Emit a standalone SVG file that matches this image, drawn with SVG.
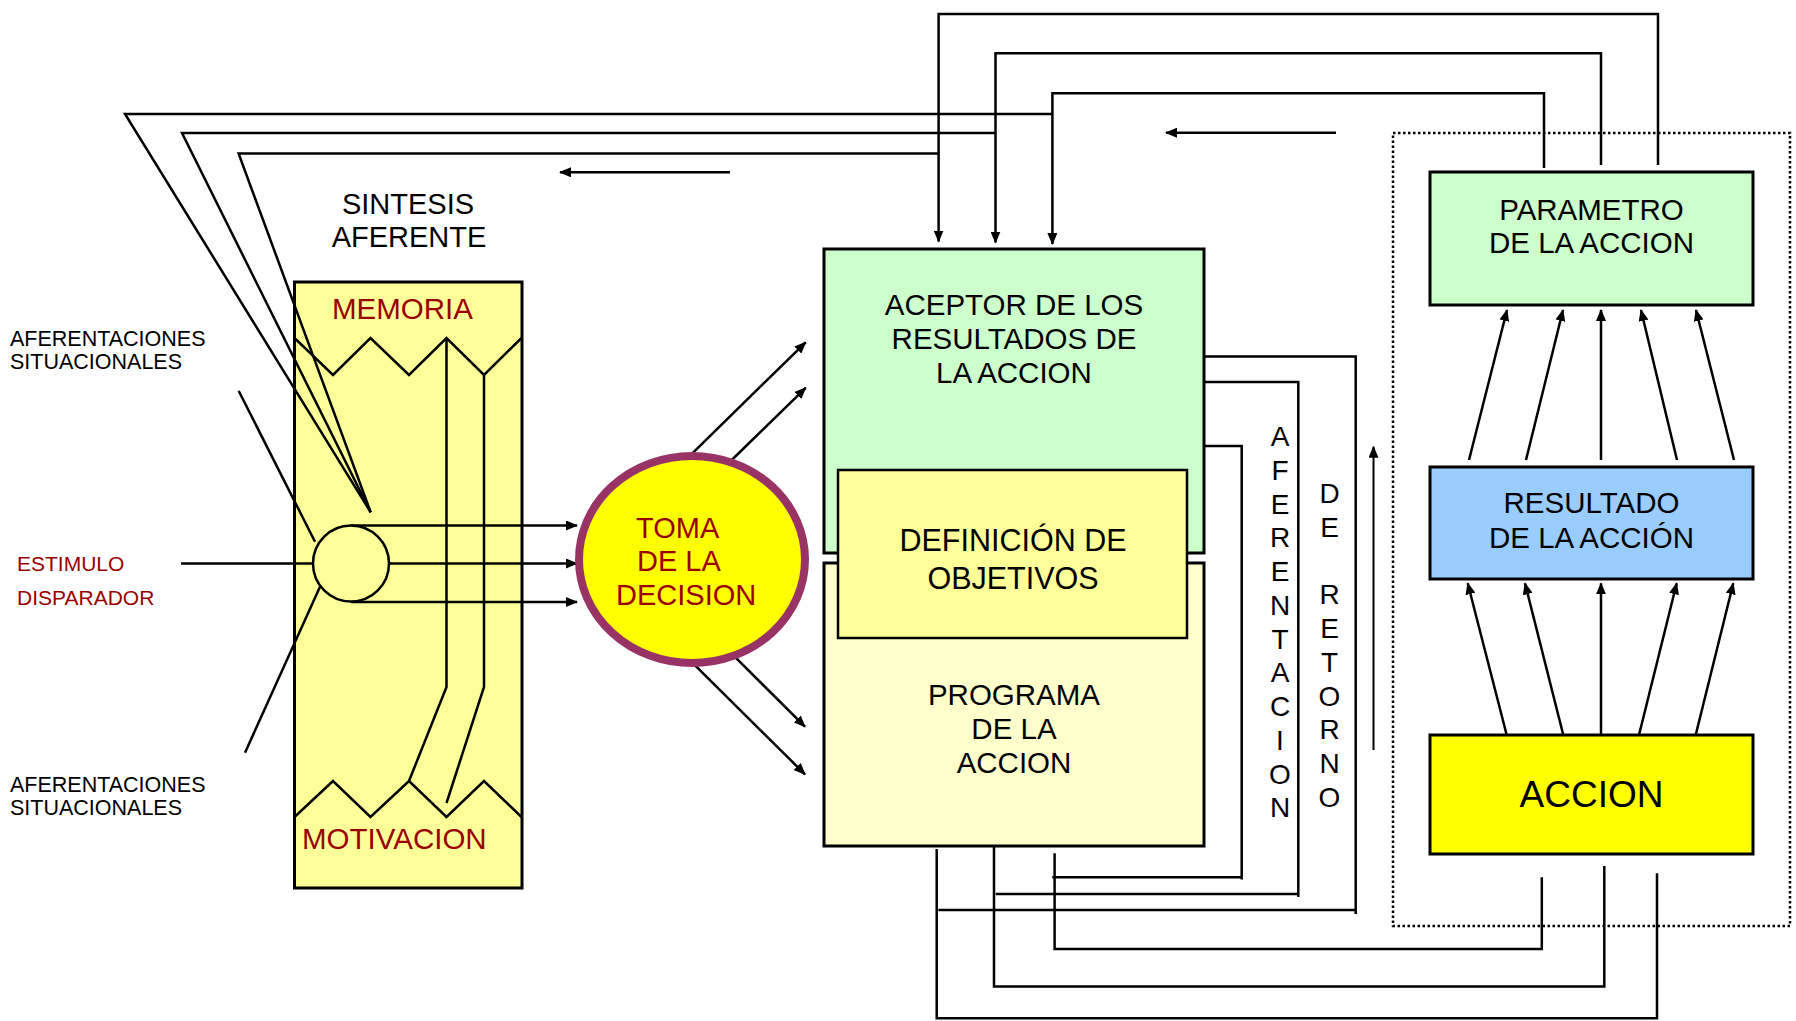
<svg xmlns="http://www.w3.org/2000/svg" width="1796" height="1021" viewBox="0 0 1796 1021">
<defs>
<marker id="ah" markerUnits="userSpaceOnUse" markerWidth="12" markerHeight="10" refX="11" refY="5" orient="auto" viewBox="0 0 12 10">
<path d="M0,0 L12,5 L0,10 z" fill="#000"/>
</marker>
</defs>
<style>
.ln{stroke:#000;stroke-width:2.5;fill:none}
.ar{stroke:#000;stroke-width:2.5;fill:none;marker-end:url(#ah)}
.bx{stroke:#000;stroke-width:3}
.t{font-family:"Liberation Sans",Arial,sans-serif;fill:#000}
.r{fill:#990000}
.m{text-anchor:middle}
</style>
<rect width="1796" height="1021" fill="#fff"/>

<g id="dotted-frame">
<rect x="1393" y="133" width="397" height="793" fill="none" stroke="#000" stroke-width="2.5" stroke-dasharray="2.5,2.5"/>
</g>

<g id="memoria">
<rect class="bx" x="294.5" y="282" width="227.5" height="606" fill="#FFFF99"/>
<polyline class="ln" points="294.5,338 333,375 370.5,338 409,375 446.5,338 484,375 521.5,338"/>
<polyline class="ln" points="294.5,817 333,781 370.5,817 409,781 446.5,817 484,781 521.5,817"/>
<path class="ln" d="M446.5,338 V687 L409,781 M484,375 V687 L446.5,803"/>
<text class="t r" x="332" y="318.5" font-size="29.5">MEMORIA</text>
<text class="t r" x="302" y="848.5" font-size="29.5">MOTIVACION</text>
</g>

<g id="sintesis-label">
<text class="t m" x="408" y="213.5" font-size="29">SINTESIS</text>
<text class="t m" x="409" y="246.5" font-size="29">AFERENTE</text>
</g>

<g id="aferentaciones-top">
<text class="t" x="10" y="346" font-size="21.5">AFERENTACIONES</text>
<text class="t" x="10" y="369" font-size="21.5">SITUACIONALES</text>
</g>
<g id="aferentaciones-bottom">
<text class="t" x="10" y="791.5" font-size="21.5">AFERENTACIONES</text>
<text class="t" x="10" y="815" font-size="21.5">SITUACIONALES</text>
</g>
<g id="estimulo">
<text class="t r" x="17" y="570.5" font-size="21">ESTIMULO</text>
<text class="t r" x="17" y="605" font-size="21">DISPARADOR</text>
</g>

<g id="connectors">
<path class="ar" d="M1658,165 V14 H938.6 V241.5"/>
<path class="ar" d="M1601,165 V53.3 H995.5 V242.5"/>
<path class="ar" d="M1544,168 V93.3 H1052.4 V244"/>
<path class="ln" d="M1052.4,114 H125 L370.7,512.3"/>
<path class="ln" d="M995.5,133 H182 L370.7,512.3"/>
<path class="ln" d="M938.6,153.5 H238.6 L370.7,512.3"/>
<path class="ar" d="M730,172.3 H560"/>
<path class="ar" d="M1336,132.7 H1166"/>
<path class="ln" d="M238.6,390.7 L315,541.7"/>
<path class="ln" d="M245,752.7 L320,586.7"/>
<path class="ln" d="M181,563.5 H312.7"/>
<path class="ar" d="M351,525.5 H577"/>
<path class="ar" d="M389.3,563.5 H577"/>
<path class="ar" d="M351,602 H577"/>
<path class="ar" d="M692.3,453.3 L805.7,342.3"/>
<path class="ar" d="M730.7,461 L805.7,387.8"/>
<path class="ar" d="M730.7,652.7 L805,726.7"/>
<path class="ar" d="M692.3,662.7 L805,774.3"/>
<path class="ln" d="M1203.5,356.5 H1355.7 V914"/>
<path class="ln" d="M1203.5,382 H1298.3 V897"/>
<path class="ln" d="M1203.5,446 H1241.7 V879.5"/>
<path class="ln" d="M938.4,910 H1355.7"/>
<path class="ln" d="M995.7,894 H1298.3"/>
<path class="ln" d="M1052.3,877.3 H1241.7"/>
<path class="ln" d="M936.7,849 V1018.3 H1657 V873.3"/>
<path class="ln" d="M994,842 V986.5 H1604.3 V866"/>
<path class="ln" d="M1054.6,853.3 V949 H1541.8 V877.3"/>
<path class="ar" style="stroke-width:2" d="M1373.5,750 V446.7"/>
<path class="ar" d="M1469,460 L1507,310"/>
<path class="ar" d="M1526,460 L1563,310"/>
<path class="ar" d="M1601,460 V310"/>
<path class="ar" d="M1677,460 L1641,310"/>
<path class="ar" d="M1734,460 L1696,310"/>
<path class="ar" d="M1506.7,735 L1467.7,583.3"/>
<path class="ar" d="M1563.3,735 L1525,583.3"/>
<path class="ar" d="M1601,735 V583.3"/>
<path class="ar" d="M1639,735 L1676.7,583.3"/>
<path class="ar" d="M1695.7,735 L1733.3,583.3"/>
</g>

<g id="circulo">
<circle cx="351" cy="563.5" r="38" fill="#FFFF99" stroke="#000" stroke-width="2.5"/>
</g>

<g id="toma">
<ellipse cx="692" cy="559.5" rx="113" ry="103.5" fill="#FFFF00" stroke="#993366" stroke-width="8"/>
<text class="t r" x="636" y="537.5" font-size="29">TOMA</text>
<text class="t r" x="637" y="571" font-size="29">DE LA</text>
<text class="t r" x="616" y="604.5" font-size="29">DECISION</text>
</g>

<g id="aceptor">
<rect class="bx" x="824" y="249" width="380" height="304" fill="#CCFFCC"/>
<text class="t m" x="1014" y="314.5" font-size="29.5">ACEPTOR DE LOS</text>
<text class="t m" x="1014" y="348.5" font-size="29.5">RESULTADOS DE</text>
<text class="t m" x="1014" y="382.5" font-size="29.5">LA ACCION</text>
</g>

<g id="programa">
<rect class="bx" x="824" y="563" width="380" height="283" fill="#FFFFCC"/>
<text class="t m" x="1014" y="705" font-size="29.5">PROGRAMA</text>
<text class="t m" x="1014" y="739" font-size="29.5">DE LA</text>
<text class="t m" x="1014" y="773" font-size="29.5">ACCION</text>
</g>

<g id="definicion">
<rect class="bx" style="stroke-width:2.5" x="838" y="470" width="349" height="168" fill="#FFFF99"/>
<text class="t m" x="1013" y="551" font-size="30.5">DEFINICIÓN DE</text>
<text class="t m" x="1013" y="588.5" font-size="30.5">OBJETIVOS</text>
</g>

<g id="afer-vertical">
<text class="t m" font-size="28">
<tspan x="1280" y="446">A</tspan><tspan x="1280" y="479.75">F</tspan><tspan x="1280" y="513.5">E</tspan><tspan x="1280" y="547.25">R</tspan><tspan x="1280" y="581">E</tspan><tspan x="1280" y="614.75">N</tspan><tspan x="1280" y="648.5">T</tspan><tspan x="1280" y="682.25">A</tspan><tspan x="1280" y="716">C</tspan><tspan x="1280" y="749.75">I</tspan><tspan x="1280" y="783.5">O</tspan><tspan x="1280" y="817.25">N</tspan>
</text>
</g>
<g id="retorno-vertical">
<text class="t m" font-size="28">
<tspan x="1329.5" y="503.3">D</tspan><tspan x="1329.5" y="537">E</tspan><tspan x="1329.5" y="604.4">R</tspan><tspan x="1329.5" y="638.1">E</tspan><tspan x="1329.5" y="671.8">T</tspan><tspan x="1329.5" y="705.5">O</tspan><tspan x="1329.5" y="739.2">R</tspan><tspan x="1329.5" y="772.9">N</tspan><tspan x="1329.5" y="806.6">O</tspan>
</text>
</g>

<g id="parametro">
<rect class="bx" x="1430" y="172" width="323" height="133" fill="#CCFFCC"/>
<text class="t m" x="1591.5" y="220" font-size="29.5">PARAMETRO</text>
<text class="t m" x="1591.5" y="252.7" font-size="29.5">DE LA ACCION</text>
</g>

<g id="resultado">
<rect class="bx" x="1430" y="467" width="323" height="112" fill="#99CCFF"/>
<text class="t m" x="1591.5" y="513.3" font-size="29.5">RESULTADO</text>
<text class="t m" x="1591.5" y="547.7" font-size="29.5">DE LA ACCIÓN</text>
</g>

<g id="accion">
<rect class="bx" x="1430" y="735" width="323" height="119" fill="#FFFF00"/>
<text class="t m" x="1591.5" y="807.3" font-size="37">ACCION</text>
</g>
</svg>
